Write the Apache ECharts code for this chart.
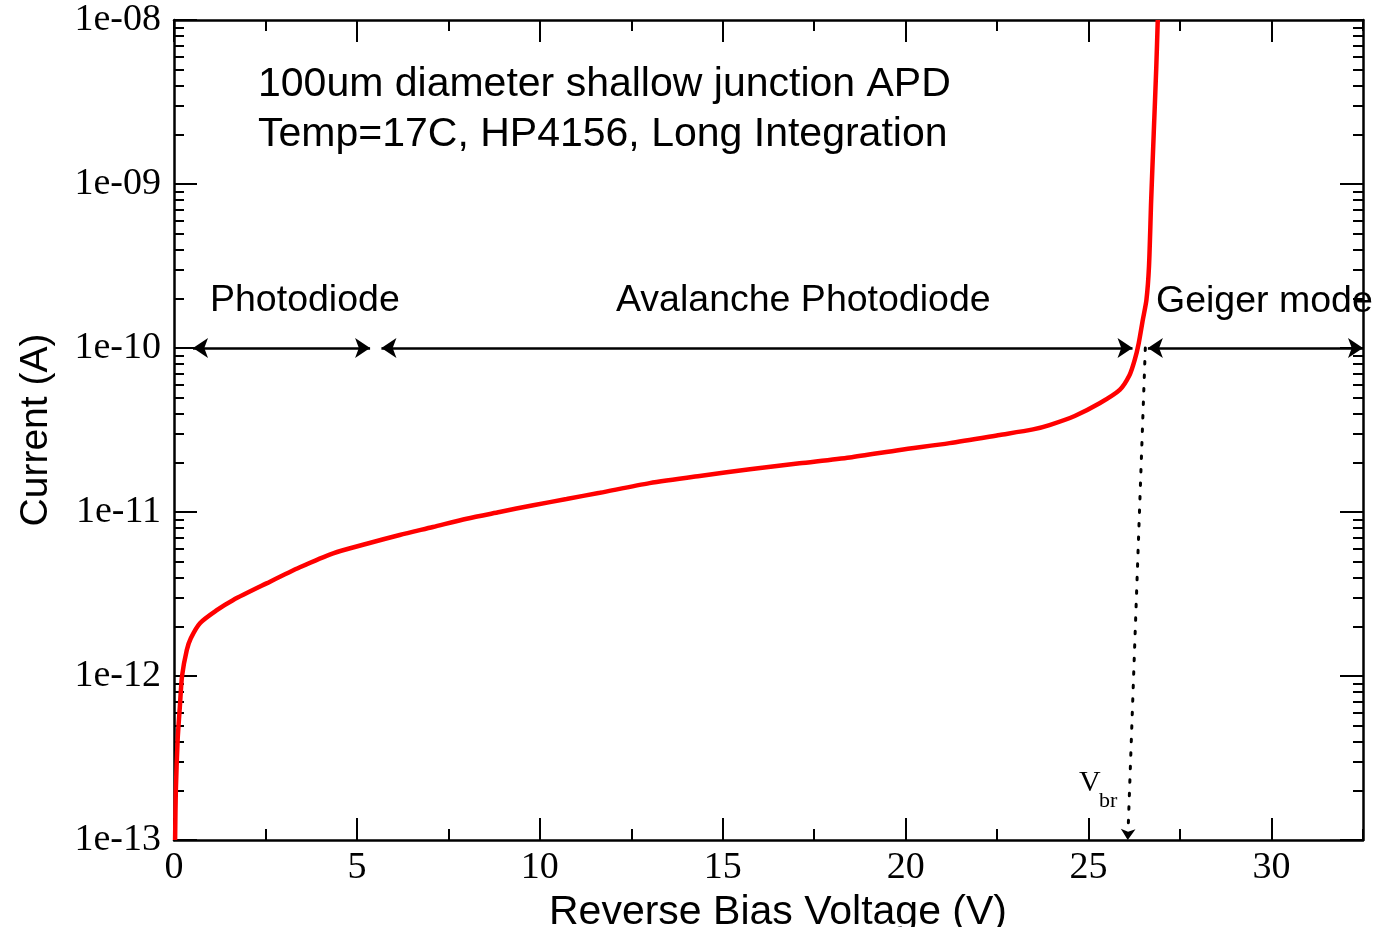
<!DOCTYPE html>
<html>
<head>
<meta charset="utf-8">
<title>APD reverse bias I-V</title>
<script src="https://cdn.jsdelivr.net/npm/echarts@6/dist/echarts.min.js"></script>
<style>
  html, body { margin: 0; padding: 0; background: #ffffff; }
  #chart { width: 1375px; height: 927px; }
</style>
</head>
<body>
<div id="chart"></div>
<script>
// Reverse bias voltage (V) and measured dark current (A)
const voltage = [0.03, 0.05, 0.1, 0.16, 0.22, 0.35, 0.46, 0.71, 1.17, 1.61, 2.53, 3.44, 4.35, 5.27,
  6.17, 7.08, 8.0, 8.9, 9.82, 10.73, 11.64, 13.0, 14.37, 15.74, 17.1, 18.47, 19.84, 21.2, 22.57,
  23.48, 23.93, 24.62, 25.3, 25.85, 26.12, 26.26, 26.37, 26.48, 26.58, 26.65, 26.71, 26.78, 26.85, 26.89];
const current = [1.0e-13, 2.0e-13, 4.1e-13, 6.5e-13, 1.0e-12, 1.44e-12, 1.7e-12, 2.1e-12, 2.52e-12,
  2.9e-12, 3.67e-12, 4.6e-12, 5.6e-12, 6.4e-12, 7.24e-12, 8.1e-12, 9.1e-12, 1.0e-11, 1.1e-11,
  1.2e-11, 1.31e-11, 1.5e-11, 1.66e-11, 1.82e-11, 1.98e-11, 2.15e-11, 2.39e-11, 2.63e-11, 2.95e-11,
  3.19e-11, 3.39e-11, 3.85e-11, 4.6e-11, 5.55e-11, 6.84e-11, 8.45e-11, 1.07e-10, 1.48e-10, 1.96e-10,
  3.13e-10, 7.98e-10, 2.04e-9, 5.19e-9, 1.0e-8];

// Axis ranges and tick positions
const xMin = 0, xMax = 32.5;
const xMajorTicks = [0, 5, 10, 15, 20, 25, 30];
const xMinorTicks = [2.5, 7.5, 12.5, 17.5, 22.5, 27.5, 32.5];
const yDecades = [-13, -12, -11, -10, -9, -8];   // log10 of current

// Operating regions marked at 1e-10 A: [label, from V, to V]
const regionNames = ['Photodiode', 'Avalanche Photodiode', 'Geiger mode'];
const regionFrom = [0.52, 5.67, 26.62];
const regionTo = [5.36, 26.2, 32.5];
const regionLevel = 1e-10;

// Breakdown voltage marker (dotted line from the knee down to the axis)
const vbrTop = [26.55, 1e-10];
const vbrBottom = [26.07, 1e-13];

// Minor log ticks (2..9 within each decade), in log10 units
const yMinorTicks = [];
for (let d = yDecades[0]; d < yDecades[yDecades.length - 1]; d++) {
  for (let k = 2; k <= 9; k++) yMinorTicks.push(d + Math.log10(k));
}

const serif = '"Liberation Serif", "Times New Roman", serif';
const sans = '"Liberation Sans", Arial, sans-serif';
const ink = '#000000';

const chart = echarts.init(document.getElementById('chart'), null, { renderer: 'canvas' });

function tickAxis(pos, values, len, showLine) {
  const vertical = pos === 'left' || pos === 'right';
  return {
    type: 'value', position: pos,
    min: vertical ? yDecades[0] : xMin,
    max: vertical ? yDecades[yDecades.length - 1] : xMax,
    axisLine: { show: !!showLine, onZero: false, lineStyle: { color: ink, width: 2.5 } },
    axisTick: { show: true, inside: true, length: len, customValues: values, lineStyle: { color: ink, width: 2 } },
    axisLabel: { show: false },
    splitLine: { show: false }
  };
}

const regionLines = regionNames.map((n, i) => [
  { coord: [regionFrom[i], regionLevel], symbol: 'arrow' },
  { coord: [regionTo[i], regionLevel], symbol: 'arrow' }
]);

const option = {
  animation: false,
  backgroundColor: '#ffffff',
  grid: { left: 174, right: 12, top: 20, bottom: 87, containLabel: false, outerBoundsMode: 'none' },
  xAxis: [
    {
      type: 'value', position: 'bottom', min: xMin, max: xMax,
      axisLine: { show: true, onZero: false, lineStyle: { color: ink, width: 2.5 } },
      axisTick: { show: true, inside: true, length: 22, customValues: xMajorTicks, lineStyle: { color: ink, width: 2 } },
      axisLabel: { show: true, customValues: xMajorTicks, margin: 9, color: ink, fontFamily: serif, fontSize: 38 },
      splitLine: { show: false },
      name: 'Reverse Bias Voltage (V)', nameLocation: 'middle', nameGap: 43,
      nameTextStyle: { fontFamily: sans, fontSize: 41, color: ink, padding: [0, 0, 0, 19] }
    },
    tickAxis('bottom', xMinorTicks, 11, false),
    tickAxis('top', xMajorTicks, 22, true),
    tickAxis('top', xMinorTicks, 11, false)
  ],
  yAxis: [
    {
      type: 'log', logBase: 10, position: 'left', min: 1e-13, max: 1e-8,
      axisLine: { show: true, onZero: false, lineStyle: { color: ink, width: 2.5 } },
      axisTick: { show: false }, axisLabel: { show: false }, splitLine: { show: false },
      name: 'Current (A)', nameLocation: 'middle', nameGap: 118, nameRotate: 90,
      nameTextStyle: { fontFamily: sans, fontSize: 39, color: ink }
    },
    Object.assign(tickAxis('left', yDecades, 23, false), {
      axisLabel: {
        show: true, customValues: yDecades, margin: 13, color: ink, fontFamily: serif, fontSize: 38,
        formatter: v => '1e-' + String(Math.abs(Math.round(v))).padStart(2, '0')
      }
    }),
    tickAxis('left', yMinorTicks, 10, false),
    tickAxis('right', yDecades, 23, true),
    tickAxis('right', yMinorTicks, 10, false)
  ],
  series: [{
    type: 'line',
    xAxisIndex: 0, yAxisIndex: 0,
    data: voltage.map((v, i) => [v, current[i]]),
    showSymbol: false, symbol: 'none',
    smooth: 0.25,
    lineStyle: { color: '#ff0000', width: 4.5 },
    silent: true,
    markLine: {
      silent: true, animation: false,
      symbolSize: 15,
      label: { show: false },
      lineStyle: { color: ink, width: 2.5, type: 'solid' },
      emphasis: { disabled: true },
      data: regionLines.concat([[
        { coord: vbrTop, symbol: 'none', lineStyle: { type: [2.5, 11], width: 3, color: ink, cap: 'round' } },
        { coord: vbrBottom, symbol: 'arrow', symbolSize: 11 }
      ]])
    }
  }],
  graphic: [
    { type: 'text', silent: true, x: 258, y: 85,
      style: { text: '100um diameter shallow junction APD', fontFamily: sans, fontSize: 41, fill: ink, align: 'left', verticalAlign: 'middle' } },
    { type: 'text', silent: true, x: 258, y: 135,
      style: { text: 'Temp=17C, HP4156, Long Integration', fontFamily: sans, fontSize: 41, fill: ink, align: 'left', verticalAlign: 'middle' } },
    { type: 'text', silent: true, x: 210, y: 301,
      style: { text: regionNames[0], fontFamily: sans, fontSize: 37.5, fill: ink, align: 'left', verticalAlign: 'middle' } },
    { type: 'text', silent: true, x: 616, y: 301,
      style: { text: regionNames[1], fontFamily: sans, fontSize: 37.5, fill: ink, align: 'left', verticalAlign: 'middle' } },
    { type: 'text', silent: true, x: 1156, y: 302,
      style: { text: regionNames[2], fontFamily: sans, fontSize: 37.5, fill: ink, align: 'left', verticalAlign: 'middle' } },
    { type: 'text', silent: true, x: 1079, y: 783,
      style: { text: 'V', fontFamily: serif, fontSize: 30, fill: ink, align: 'left', verticalAlign: 'middle' } },
    { type: 'text', silent: true, x: 1099, y: 801,
      style: { text: 'br', fontFamily: serif, fontSize: 22, fill: ink, align: 'left', verticalAlign: 'middle' } }
  ]
};

chart.setOption(option);
</script>
</body>
</html>
